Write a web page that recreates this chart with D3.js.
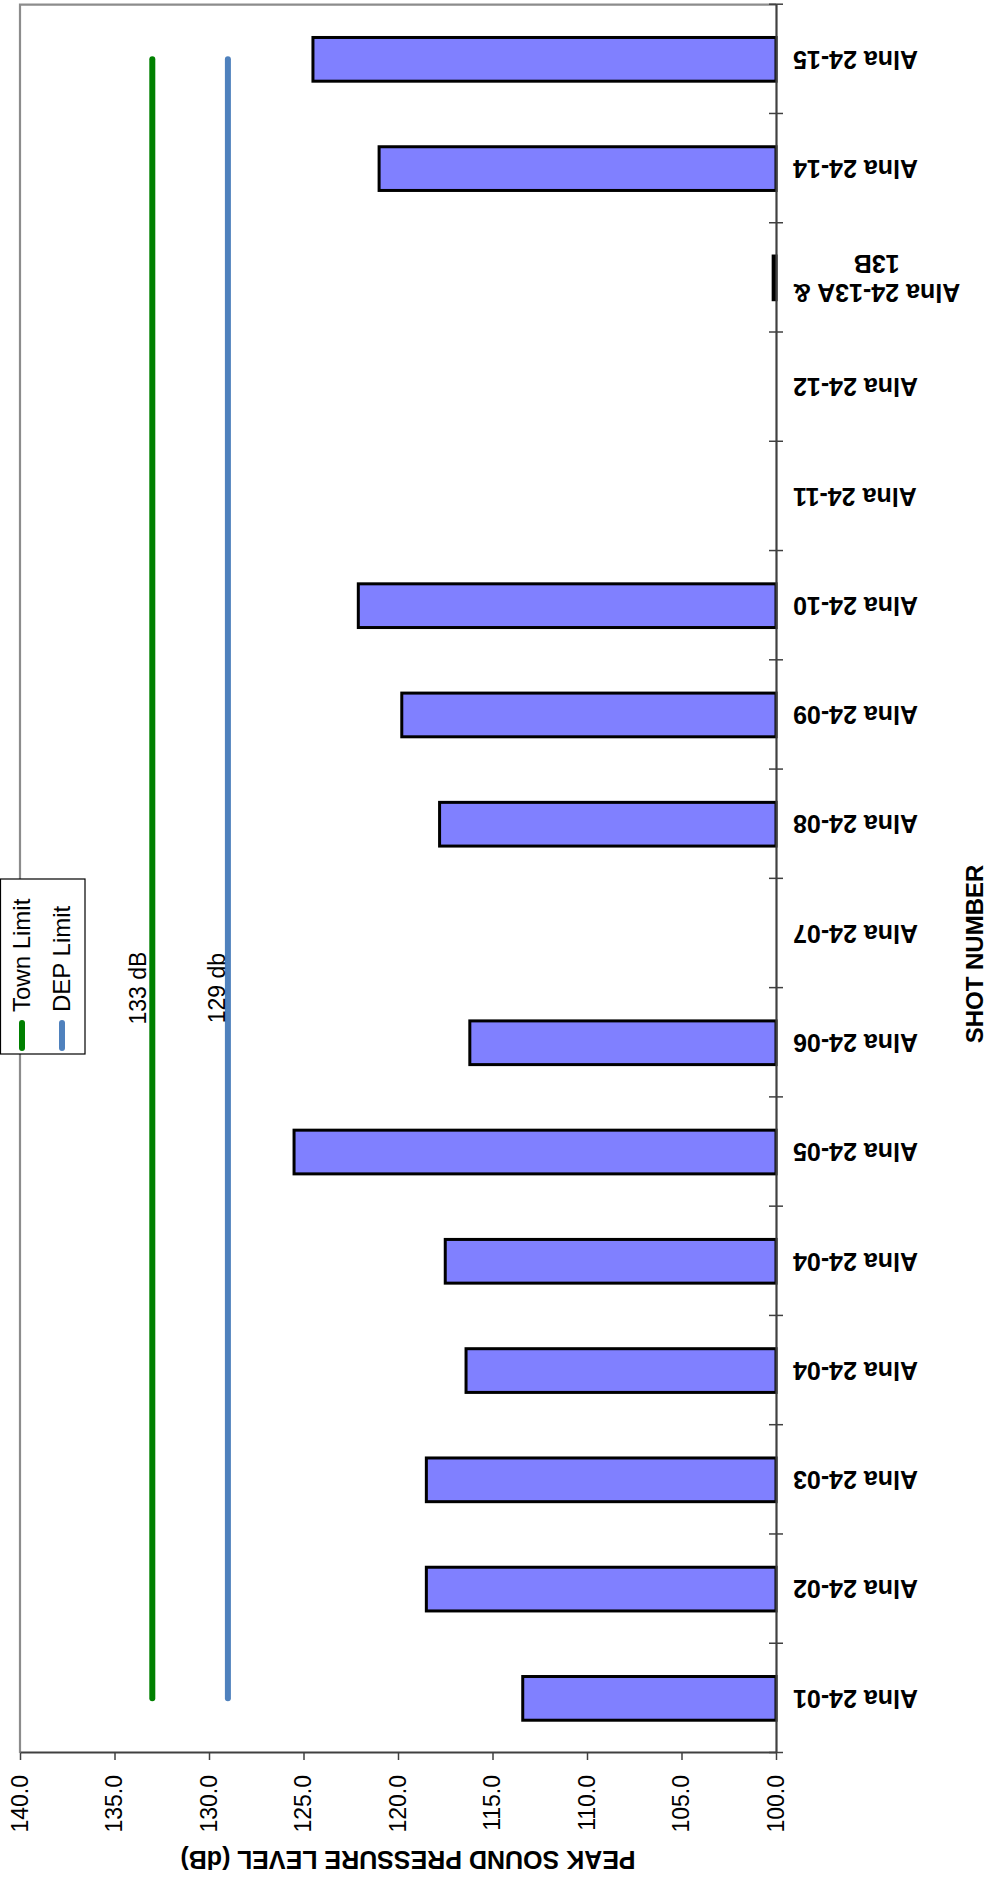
<!doctype html>
<html lang="en">
  <head>
    <meta charset="utf-8">
    <title>Peak Sound Pressure Level</title>
    <script src="https://cdn.jsdelivr.net/npm/d3@7"></script>
    <style>
      body { margin: 0; background: #fff; }
      svg { display: block; font-family: "Liberation Sans", Arial, sans-serif; }
    </style>
  </head>
  <body>
    <script>
      const categories = ["Alna 24-01", "Alna 24-02", "Alna 24-03", "Alna 24-04", "Alna 24-04",
                          "Alna 24-05", "Alna 24-06", "Alna 24-07", "Alna 24-08", "Alna 24-09",
                          "Alna 24-10", "Alna 24-11", "Alna 24-12", "Alna 24-13A & 13B",
                          "Alna 24-14", "Alna 24-15"];
      const peakDb = [113.4, 118.5, 118.5, 116.4, 117.5, 125.5, 116.2, null, 117.8, 119.8,
                      122.1, null, null, 100.15, 121.0, 124.5];
      const townLimit = [133, 133, 133, 133, 133, 133, 133, 133, 133, 133, 133, 133, 133, 133, 133, 133];
      const depLimit = [129, 129, 129, 129, 129, 129, 129, 129, 129, 129, 129, 129, 129, 129, 129, 129];
      const valueTicks = [100, 105, 110, 115, 120, 125, 130, 135, 140];
      const seriesNames = ["Town Limit", "DEP Limit"];
      const limitLabels = ["133 dB", "129 db"];

      // page is the chart turned a quarter turn, so build it upright and rotate
      const pageW = 990, pageH = 1883;
      const padL = 130, padR = 1878.3, padT = 20, padB = 776;

      const svg = d3.select("body")
                    .append("svg")
                    .attr("width", pageW)
                    .attr("height", pageH);

      const g = svg.append("g")
                   .attr("transform", "translate(0," + pageH + ") rotate(-90)");

      const idx = categories.map((d, i) => i);
      const xScale = d3.scaleBand()
                       .domain(idx)
                       .range([padL, padR])
                       .paddingInner(0.6)
                       .paddingOuter(0.3);
      const yScale = d3.scaleLinear()
                       .domain([100, 140])
                       .range([padB, padT]);
      const mid = (i) => xScale(i) + xScale.bandwidth() / 2;

      // plot frame
      g.append("path")
       .attr("d", "M" + padL + "," + padT + "H" + padR + "V" + padB)
       .attr("fill", "none")
       .attr("stroke", "#8c8c8c")
       .attr("stroke-width", 2.2);

      // bars
      g.selectAll("rect.bar")
       .data(peakDb.map((v, i) => ({ v: v, i: i })).filter((d) => d.v !== null))
       .enter()
       .append("rect")
       .attr("class", "bar")
       .attr("x", (d) => xScale(d.i))
       .attr("width", xScale.bandwidth())
       .attr("y", (d) => yScale(d.v))
       .attr("height", (d) => yScale(100) - yScale(d.v))
       .attr("fill", "#8080ff")
       .attr("stroke", "#000")
       .attr("stroke-width", 3);

      // limit lines
      const line = d3.line()
                     .x((d, i) => mid(i))
                     .y((d) => yScale(d));
      const lineColors = ["#008000", "#4f81bd"];
      [townLimit, depLimit].forEach((s, k) => {
        g.append("path")
         .attr("d", line(s))
         .attr("fill", "none")
         .attr("stroke", lineColors[k])
         .attr("stroke-width", 6)
         .attr("stroke-linecap", "round");
      });

      // labels on limit lines
      const labelAt = (mid(6) + mid(7)) / 2;
      g.append("text")
       .attr("x", labelAt)
       .attr("y", yScale(133) - 6)
       .attr("text-anchor", "middle")
       .attr("font-size", 23)
       .text(limitLabels[0]);
      g.append("text")
       .attr("x", labelAt)
       .attr("y", yScale(129) - 3)
       .attr("text-anchor", "middle")
       .attr("font-size", 23)
       .text(limitLabels[1]);

      // value axis
      const yAxis = d3.axisLeft(yScale)
                      .tickValues(valueTicks)
                      .tickFormat(d3.format(".1f"))
                      .tickSize(7)
                      .tickSizeOuter(0)
                      .tickPadding(15);
      const ya = g.append("g")
                  .attr("transform", "translate(" + padL + ",0)")
                  .call(yAxis);
      ya.select(".domain").attr("stroke", "#404040").attr("stroke-width", 2.2);
      ya.selectAll(".tick line").attr("stroke", "#404040").attr("stroke-width", 1.5);
      ya.selectAll(".tick text")
        .attr("font-size", 23)
        .attr("font-family", "Liberation Sans, Arial, sans-serif")
        .attr("fill", "#000");

      // category axis: ticks between categories, crossing the axis
      const edge = d3.scaleLinear().domain([0, categories.length]).range([padL, padR]);
      const xa = g.append("g")
                  .attr("transform", "translate(0," + padB + ")")
                  .call(d3.axisBottom(edge)
                          .tickValues(d3.range(categories.length + 1))
                          .tickSize(7)
                          .tickSizeOuter(0)
                          .tickFormat(""));
      xa.select(".domain").attr("stroke", "#404040").attr("stroke-width", 2.2);
      xa.selectAll(".tick line").attr("y1", -7).attr("stroke", "#404040").attr("stroke-width", 1.5);

      const catFont = 25;
      const cats = g.append("g")
                    .selectAll("text")
                    .data(categories)
                    .enter()
                    .append("text")
                    .attr("font-size", catFont)
                    .attr("font-weight", "bold")
                    .attr("text-anchor", "end")
                    .attr("transform", (d, i) => "translate(" + mid(i) + "," + (padB + 17) + ") rotate(-90)");
      cats.each(function (d) {
        const t = d3.select(this);
        const amp = d.indexOf("&");
        if (amp < 0) {
          t.attr("dy", "0.35em").text(d);
        } else {
          const a = t.append("tspan").attr("x", 0).attr("dy", (0.35 - 0.58) + "em").text(d.slice(0, amp + 1));
          t.append("tspan").attr("x", 0).attr("dy", "1.16em").text(d.slice(amp + 2));
          const wd = a.node().getComputedTextLength();
          t.attr("text-anchor", "middle").selectAll("tspan").attr("x", -wd / 2);
        }
      });

      // axis titles
      g.append("text")
       .attr("transform", "translate(32,408) rotate(-90)")
       .attr("text-anchor", "middle")
       .attr("font-size", 25)
       .attr("font-weight", "bold")
       .text("PEAK SOUND PRESSURE LEVEL (dB)");
      g.append("text")
       .attr("x", 929)
       .attr("y", 983)
       .attr("text-anchor", "middle")
       .attr("font-size", 24)
       .attr("font-weight", "bold")
       .text("SHOT NUMBER");

      // legend
      const lg = g.append("g").attr("transform", "translate(829,0)");
      lg.append("rect")
        .attr("x", 0)
        .attr("y", 0.5)
        .attr("width", 175)
        .attr("height", 84.5)
        .attr("fill", "#fff")
        .attr("stroke", "#000")
        .attr("stroke-width", 1.2);
      seriesNames.forEach((name, k) => {
        const yy = 22 + k * 40;
        lg.append("line")
          .attr("x1", 6).attr("x2", 31)
          .attr("y1", yy).attr("y2", yy)
          .attr("stroke", lineColors[k])
          .attr("stroke-width", 6)
          .attr("stroke-linecap", "round");
        lg.append("text")
          .attr("x", 42)
          .attr("y", yy)
          .attr("dy", "0.35em")
          .attr("font-size", 24)
          .text(name);
      });
    </script>
  </body>
</html>
